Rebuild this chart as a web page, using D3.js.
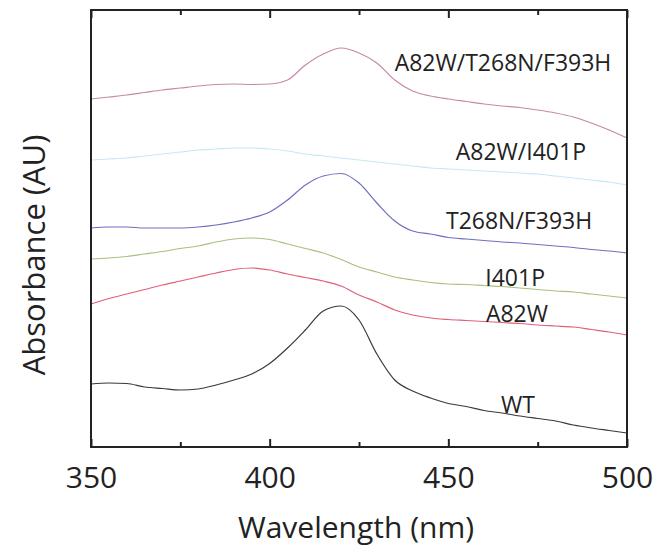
<!DOCTYPE html>
<html>
<head>
<meta charset="utf-8">
<script src="https://cdn.jsdelivr.net/npm/d3@7"></script>
<style>
  body { margin: 0; background: #fff; }
  svg text { font-family: "Open Sans", sans-serif; fill: #222; }
</style>
</head>
<body>
<svg width="659" height="547"></svg>
<script>
// wavelengths sampled every 5 nm
var wavelengths = d3.range(350, 501, 5);

// absorbance traces, offset for display (AU)
var triple  = [348,350,352,354.5,357,359,361,362.5,363,362.5,363,367,382,393,399,394,384,367,356,351,348,345.5,343,341,339.5,337,334,330,324,317,309];
var a82wI401p = [287,288,289,291,293,295,297,298,299,299,298,296,293,291,289,287,285,283,281,279,278,277,276,275,274,273,271,269,267,265,262];
var t268n   = [219,220,220,219,219,219,220,222,225,229,235,247,262,271,273.5,264,244,226,216,213,209.5,208,206.5,205,204,202.5,201,199.5,197.5,196,194];
var i401p   = [188,189,190.5,193,195.5,198.5,201,205,208,209,207.5,203,198.5,194,187.5,180,175,170,167,164.5,163,162.5,161.5,160.5,159,157.5,156,155,153,151,149];
var a82w    = [143,148.5,153,157.5,162,166,170,174,177.5,179,177,173,169.5,166,161,152,145,137,132,129,127.5,126.5,125.5,124.5,123.5,122,121,120,117.5,115,112];
var wt      = [63,64,63.5,60,58.5,57,58,62,67,73,83.5,99,117,136,141,127,93,67,56,49,43.5,40.5,36.5,34,31,28.5,26,22,19,16.5,14];

var seriesNames = ["A82W/T268N/F393H", "A82W/I401P", "T268N/F393H", "I401P", "A82W", "WT"];
var seriesValues = [triple, a82wI401p, t268n, i401p, a82w, wt];
var seriesColors = ["#c48aa8", "#c8e8f3", "#6f6fc0", "#a8c080", "#e0607a", "#3a3a3a"];
// label anchor: wavelength and absorbance of text baseline
var labelX = [465.3, 470.3, 469.8, 468.7, 469.2, 469.5];
var labelY = [376, 287, 218, 161, 125, 34];

var xTicks = [350, 400, 450, 500];
var xMinorTicks = [375, 425, 475];

var svg = d3.select("svg"),
    margin = {top: 10, right: 32, bottom: 100, left: 91},
    width = +svg.attr("width") - margin.left - margin.right,
    height = +svg.attr("height") - margin.top - margin.bottom;

var g = svg.append("g").attr("transform", "translate(" + margin.left + "," + margin.top + ")");

var x = d3.scaleLinear().domain([350, 500]).range([0, width]);
var y = d3.scaleLinear().domain([0, 437]).range([height, 0]);

var line = d3.line()
    .x(function(d) { return x(d[0]); })
    .y(function(d) { return y(d[1]); })
    .curve(d3.curveMonotoneX);

seriesValues.forEach(function(vals, i) {
  g.append("path")
    .datum(wavelengths.map(function(w, j) { return [w, vals[j]]; }))
    .attr("fill", "none")
    .attr("stroke", seriesColors[i])
    .attr("stroke-width", 1.2)
    .attr("d", line);

  g.append("text")
    .attr("x", x(labelX[i]))
    .attr("y", y(labelY[i]))
    .attr("text-anchor", "middle")
    .style("font-size", "23px")
    .text(seriesNames[i]);
});

// frame
g.append("rect")
  .attr("width", width)
  .attr("height", height)
  .attr("fill", "none")
  .attr("stroke", "#222")
  .attr("stroke-width", 2);

// inward ticks, bottom and top
var bottomAxis = d3.axisBottom(x).tickValues(xTicks).tickSize(-8).tickPadding(20).tickFormat(d3.format("d"));
var gx = g.append("g").attr("transform", "translate(0," + height + ")").call(bottomAxis);
gx.select(".domain").remove();
gx.selectAll("line").attr("stroke", "#222").attr("stroke-width", 2);
gx.selectAll("text").style("font-size", "30px").attr("fill", "#222");

var minorBottom = d3.axisBottom(x).tickValues(xMinorTicks).tickSize(-5).tickFormat("");
var gm = g.append("g").attr("transform", "translate(0," + height + ")").call(minorBottom);
gm.select(".domain").remove();
gm.selectAll("line").attr("stroke", "#222").attr("stroke-width", 2);

var topAxis = d3.axisTop(x).tickValues(xTicks).tickSize(-8).tickFormat("");
var gt = g.append("g").call(topAxis);
gt.select(".domain").remove();
gt.selectAll("line").attr("stroke", "#222").attr("stroke-width", 2);

var minorTop = d3.axisTop(x).tickValues(xMinorTicks).tickSize(-5).tickFormat("");
var gtm = g.append("g").call(minorTop);
gtm.select(".domain").remove();
gtm.selectAll("line").attr("stroke", "#222").attr("stroke-width", 2);

// axis titles
svg.append("text")
  .attr("x", margin.left + width / 2 - 3)
  .attr("y", 538)
  .attr("text-anchor", "middle")
  .style("font-size", "30px")
  .text("Wavelength (nm)");

svg.append("text")
  .attr("transform", "translate(45,255) rotate(-90)")
  .attr("text-anchor", "middle")
  .style("font-size", "31px")
  .text("Absorbance (AU)");
</script>
</body>
</html>
